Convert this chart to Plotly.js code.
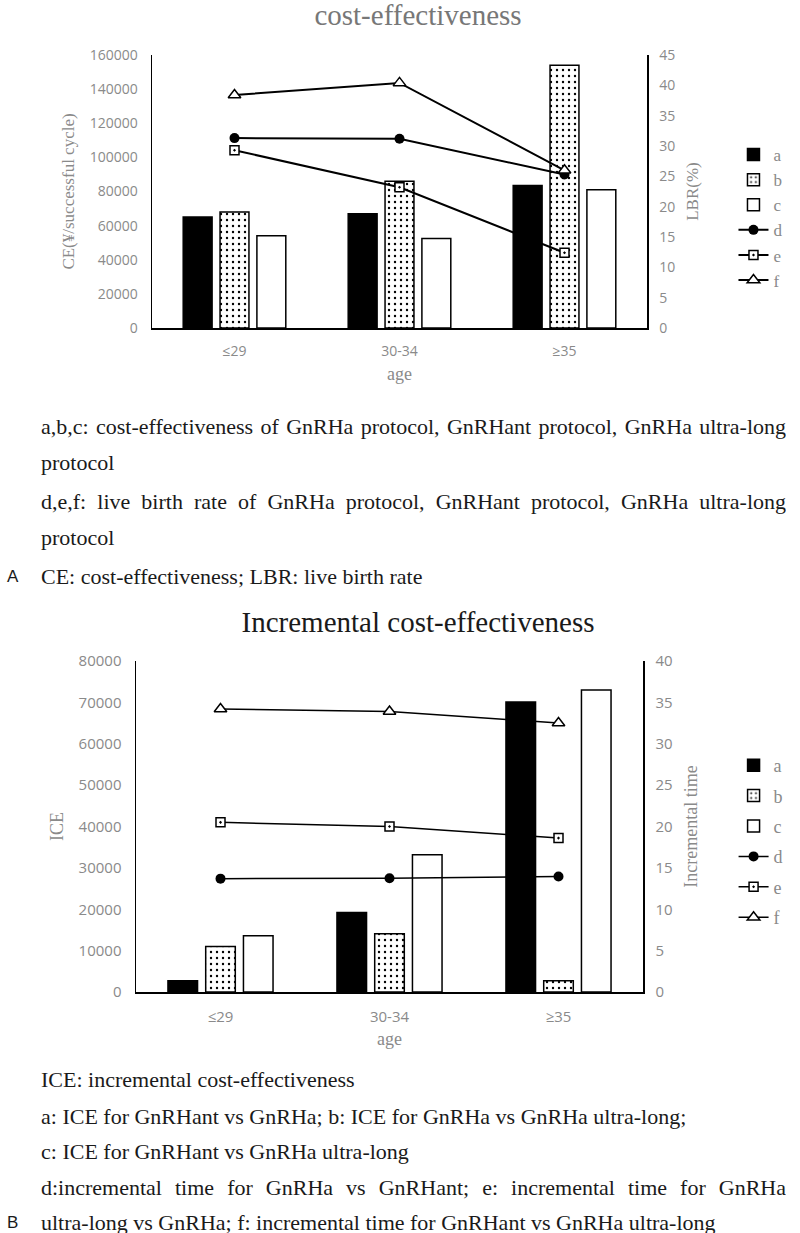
<!DOCTYPE html>
<html>
<head>
<meta charset="utf-8">
<script src="https://cdn.plot.ly/plotly-3.0.1.min.js"></script>
<style>
    body { margin: 0; background: #fff; width: 800px; height: 1233px; position: relative; overflow: hidden; }
    .chart { position: absolute; left: 0; width: 800px; }
    .cap { position: absolute; left: 41px; width: 745px; height: 36px; line-height: 36px;
           font-family: "Liberation Serif", serif; font-size: 22px; color: #1a1a1a; white-space: nowrap; }
    .just { text-align: justify; text-align-last: justify; white-space: normal; overflow: hidden; }
    .tag { position: absolute; left: 7px; height: 36px; line-height: 36px;
           font-family: "Liberation Sans", sans-serif; font-size: 17px; color: #1a1a1a; }
</style>
</head>
<body>
<div id="chartA" class="chart" style="top:0px;height:390px"></div>
<div id="chartB" class="chart" style="top:590px;height:470px"></div>
<div id="captions"></div>
<script>
// categories
const categories = ['≤29', '30-34', '≥35'];

// panel A: cost-effectiveness (bars, left axis) and live birth rate (lines, right axis)
const ceA = [65000, 67000, 83500];
const ceB = [68000, 86000, 154000];
const ceC = [54000, 52500, 81000];
const lbrD = [31.3, 31.2, 25.3];
const lbrE = [29.3, 23.2, 12.4];
const lbrF = [38.4, 40.4, 26.0];

// panel B: incremental cost-effectiveness (bars) and incremental time (lines)
const iceA = [2700, 19200, 70100];
const iceB = [11000, 14100, 2700];
const iceC = [13600, 33200, 73000];
const timeD = [13.7, 13.75, 13.95];
const timeE = [20.5, 20.0, 18.6];
const timeF = [34.2, 33.9, 32.5];

// caption lines: [center y, text, justified, side tag]
const captionLines = [
    [427, 'a,b,c: cost-effectiveness of GnRHa protocol, GnRHant protocol, GnRHa ultra-long', true, ''],
    [463, 'protocol', false, ''],
    [502, 'd,e,f: live birth rate of GnRHa protocol, GnRHant protocol, GnRHa ultra-long', true, ''],
    [538, 'protocol', false, ''],
    [577, 'CE: cost-effectiveness; LBR: live birth rate', false, 'A'],
    [1080, 'ICE: incremental cost-effectiveness', false, ''],
    [1117, 'a: ICE for GnRHant vs GnRHa; b: ICE for GnRHa vs GnRHa ultra-long;', false, ''],
    [1152, 'c: ICE for GnRHant vs GnRHa ultra-long', false, ''],
    [1188, 'd:incremental time for GnRHa vs GnRHant; e: incremental time for GnRHa', true, ''],
    [1223, 'ultra-long vs GnRHa; f: incremental time for GnRHant vs GnRHa ultra-long', false, 'B']
];

const SERIF = 'Liberation Serif, serif';
const SANS = 'Open Sans, sans-serif';
const GRAY = '#8a8a8a';

function makeTraces(a, b, c, d, e, f, lw) {
    const edge = { color: 'black', width: 1.5 };
    return [
        { type: 'bar', name: 'a', legendgroup: 'a', x: categories, y: a,
          marker: { color: 'black', line: edge } },
        { type: 'bar', name: 'b', legendgroup: 'b', x: categories, y: b,
          marker: { color: 'white', line: edge,
                    pattern: { shape: '.', fgcolor: 'black', bgcolor: 'white', size: 6, solidity: 0.12 } } },
        { type: 'bar', name: 'c', legendgroup: 'c', x: categories, y: c,
          marker: { color: 'white', line: edge } },
        { type: 'scatter', mode: 'lines+markers', name: 'd', legendgroup: 'd', x: categories, y: d, yaxis: 'y2',
          line: { color: 'black', width: lw },
          marker: { symbol: 'circle', size: 10, color: 'black' } },
        { type: 'scatter', mode: 'lines+markers', name: 'e', legendgroup: 'e', x: categories, y: e, yaxis: 'y2',
          line: { color: 'black', width: lw },
          marker: { symbol: 'square-dot', size: 9, color: 'white', line: { color: 'black', width: 1.5 } } },
        { type: 'scatter', mode: 'lines+markers', name: 'f', legendgroup: 'f', x: categories, y: f, yaxis: 'y2',
          line: { color: 'black', width: lw },
          marker: { symbol: 'triangle-up', size: 11, color: 'white', line: { color: 'black', width: 1.5 } } }
    ];
}

function makeLayout(o) {
    const tickFont = { family: SANS, size: o.tickSize, color: GRAY };
    const titleFont = { family: SERIF, size: o.axisTitleSize, color: GRAY };
    return {
        width: 800, height: o.height,
        margin: o.margin,
        paper_bgcolor: 'white', plot_bgcolor: 'white',
        title: { text: o.title, x: 0.5225, xanchor: 'center', xref: 'container',
                 y: 1 - o.titleY / o.height, yanchor: 'middle', yref: 'container',
                 font: { family: SERIF, size: 29, color: o.titleColor } },
        barmode: 'group', bargap: 0.33, bargroupgap: 0.216,
        showlegend: true,
        legend: { x: o.legendX, xanchor: 'left', y: o.legendY, yanchor: 'top',
                  traceorder: 'grouped', tracegroupgap: o.groupGap,
                  bgcolor: 'rgba(0,0,0,0)', font: { family: SERIF, size: o.legendSize, color: GRAY } },
        xaxis: { type: 'category', showgrid: false, zeroline: false, showline: true,
                 linecolor: 'black', linewidth: 1.5, ticks: '', ticklabelstandoff: 10, tickfont: tickFont,
                 title: { text: 'age', font: { family: SERIF, size: 18, color: GRAY }, standoff: 8 } },
        yaxis: { range: o.leftRange, dtick: o.leftDtick, tickformat: 'd', showgrid: false, zeroline: false,
                 showline: true, linecolor: 'black', linewidth: 1.5, ticks: '', ticklabelstandoff: 10,
                 tickfont: tickFont, title: { text: o.leftTitle, font: titleFont, standoff: 10 } },
        yaxis2: { overlaying: 'y', side: 'right', range: o.rightRange, dtick: 5, showgrid: false, zeroline: false,
                  showline: true, linecolor: 'black', linewidth: 1.5, ticks: '', ticklabelstandoff: 8,
                  tickfont: tickFont, title: { text: o.rightTitle, font: titleFont, standoff: 12 } }
    };
}

Plotly.newPlot('chartA', makeTraces(ceA, ceB, ceC, lbrD, lbrE, lbrF, 2), makeLayout({
    height: 390, margin: { l: 152, r: 150, t: 55, b: 62 },
    title: 'cost-effectiveness', titleY: 15, titleColor: '#777777',
    tickSize: 14, axisTitleSize: 17, legendSize: 17, groupGap: 0,
    legendX: (737 - 152) / 498, legendY: (328 - 137) / 273,
    leftRange: [0, 160000], leftDtick: 20000, leftTitle: 'CE(¥/successful cycle)',
    rightRange: [0, 45], rightTitle: 'LBR(%)'
}), { displayModeBar: false, staticPlot: true });

Plotly.newPlot('chartB', makeTraces(iceA, iceB, iceC, timeD, timeE, timeF, 1.5), makeLayout({
    height: 470, margin: { l: 136, r: 149, t: 71, b: 68 },
    title: 'Incremental cost-effectiveness', titleY: 32, titleColor: '#1a1a1a',
    tickSize: 15, axisTitleSize: 18, legendSize: 18, groupGap: 4,
    legendX: (743 - 136) / 515, legendY: (992 - 747) / 331,
    leftRange: [0, 80000], leftDtick: 10000, leftTitle: 'ICE',
    rightRange: [0, 40], rightTitle: 'Incremental time'
}), { displayModeBar: false, staticPlot: true });

// caption text below each chart
const holder = document.getElementById('captions');
captionLines.forEach(function (row) {
    const div = document.createElement('div');
    div.className = row[2] ? 'cap just' : 'cap';
    div.style.top = (row[0] - 18) + 'px';
    div.textContent = row[1];
    holder.appendChild(div);
    if (row[3]) {
        const tag = document.createElement('div');
        tag.className = 'tag';
        tag.style.top = (row[0] - 18) + 'px';
        tag.textContent = row[3];
        holder.appendChild(tag);
    }
});
</script>
</body>
</html>
